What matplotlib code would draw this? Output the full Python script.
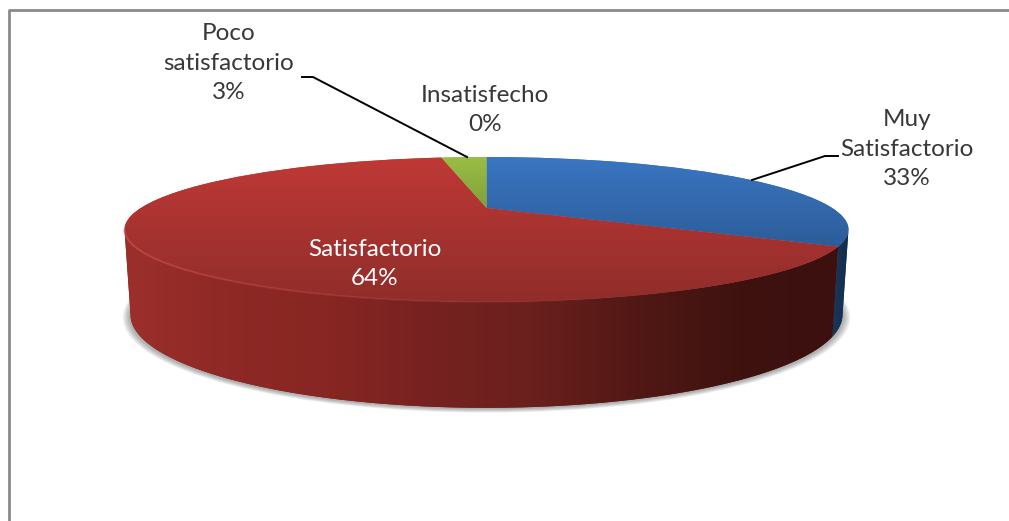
import numpy as np
import matplotlib
matplotlib.use('Agg')
import matplotlib.pyplot as plt
from matplotlib.colors import LinearSegmentedColormap
from matplotlib.patches import Ellipse, PathPatch
from matplotlib.path import Path
from matplotlib.transforms import Transform

plt.rcParams['font.family'] = ['Lato', 'DejaVu Sans']

# Data
categories = ['Muy\nSatisfactorio', 'Satisfactorio', 'Poco\nsatisfactorio', 'Insatisfecho']
shares = [33.3, 64.0, 2.7, 0.0]

W, H = 1009, 521
TILT = 0.2965


def project(x, y, cx, cy, rx, ry):
    w = 1 + TILT * y
    return cx + rx * x / w, cy - ry * y / w


class Perspective(Transform):
    input_dims = 2
    output_dims = 2
    is_separable = False
    has_inverse = False

    def __init__(self, cx, cy, rx, ry):
        super().__init__()
        self.params = (cx, cy, rx, ry)

    def transform_non_affine(self, values):
        values = np.asarray(values, dtype=float)
        px, py = project(values[:, 0], values[:, 1], *self.params)
        return np.column_stack([px, py])


top_plane = (486.5, 208, 345.7, 66.1)
bottom_plane = (486.5, 287, 340, 85)


def rim(theta, plane):
    t = np.radians(theta)
    return np.column_stack(project(np.cos(t), np.sin(t), *plane))


def gradient(ax, clip, extent, colors, horizontal=False, zorder=3):
    cmap = LinearSegmentedColormap.from_list('g', colors)
    values = np.linspace(0, 1, 256)
    values = values.reshape(1, -1) if horizontal else values.reshape(-1, 1)
    im = ax.imshow(values, cmap=cmap, extent=extent, aspect='auto',
                   origin='upper', zorder=zorder, interpolation='bilinear')
    im.set_clip_path(clip)
    return im


fig = plt.figure(figsize=(W / 100, H / 100), dpi=100)
ax = fig.add_axes([0, 0, 1, 1])

base_colors = ['#3a75c0', '#bd3835', '#98bb45', '#7a5fa0']
wedges, _ = ax.pie(shares, colors=base_colors, startangle=90, counterclock=False)
ax.set_aspect('auto')
ax.set_xlim(0, W)
ax.set_ylim(H, 0)
ax.axis('off')

persp = Perspective(*top_plane) + ax.transData
for w in wedges:
    w.set_transform(persp)
    w.set_zorder(3)
    w.set_linewidth(0)

# top faces
top_grads = [['#3a76c2', '#2c5c98'], ['#bf3936', '#8f2d2a'], ['#9abd46', '#7f9f3a']]
for w, cols, ext in zip(wedges, top_grads, [(480, 850, 250, 157), (120, 840, 303, 157), (440, 490, 210, 157)]):
    gradient(ax, w, ext, cols, zorder=4)

# side walls
silhouette = np.degrees(np.arcsin(TILT))
blue_end = wedges[0].theta1
right_edge = -silhouette
left_edge = -180 + silhouette

blue_angles = np.linspace(right_edge, blue_end, 30)
red_angles = np.linspace(blue_end, left_edge, 200)


def wall(angles):
    return Path(np.vstack([rim(angles, top_plane), rim(angles[::-1], bottom_plane)]))


blue_wall = PathPatch(wall(blue_angles), fc='#16304f', lw=0, zorder=3)
ax.add_patch(blue_wall)
red_wall = PathPatch(wall(red_angles), fc='#6b201d', lw=0, zorder=3)
ax.add_patch(red_wall)
gradient(ax, blue_wall, (825, 850, 340, 225), ['#1b3a60', '#142c4a'], horizontal=True, zorder=3.5)
gradient(ax, red_wall, (125, 840, 410, 230),
         ['#9c2f2b', '#8e2925', '#872623', '#762220', '#6a201d', '#521815', '#3f1210', '#3b100e'],
         horizontal=True, zorder=3.5)

# soft shadow under the base
for d in range(1, 8):
    ax.add_patch(Ellipse((486.5, 316 + d * 0.25), 712 + d * 2.2, 185 + d * 0.7,
                         fc='#404040', alpha=0.07, lw=0, zorder=1))

# light edge along the front of the top face
edge = rim(np.linspace(left_edge, -75, 120), top_plane)
for i in range(len(edge) - 1):
    ax.plot(edge[i:i + 2, 0], edge[i:i + 2, 1], color='#d0504a', lw=1.4,
            alpha=0.75 * (1 - i / 120), zorder=5, solid_capstyle='butt')

# chart border, only left and top show
ax.plot([9, 9, W], [H, 9.5, 9.5], color='#8a8a8a', lw=2.0, zorder=1)

# leader lines
ax.plot([302, 313, 467], [77, 77, 157], color='black', lw=1.4, zorder=6)
ax.plot([752, 825, 838], [180, 156, 156], color='black', lw=1.4, zorder=6)

# labels
text_c = '#383838'
size = 17.5
label_pos = [(907, 149), (375, 264), (229, 63), (485, 110)]
label_col = [text_c, 'white', text_c, text_c]
for cat, val, (x, y), col in zip(categories, shares, label_pos, label_col):
    ax.text(x, y, f'{cat}\n{val:.0f}%', ha='center', va='center', color=col,
            fontsize=size, linespacing=1.5, zorder=7)

fig.savefig('out.png', dpi=100)
